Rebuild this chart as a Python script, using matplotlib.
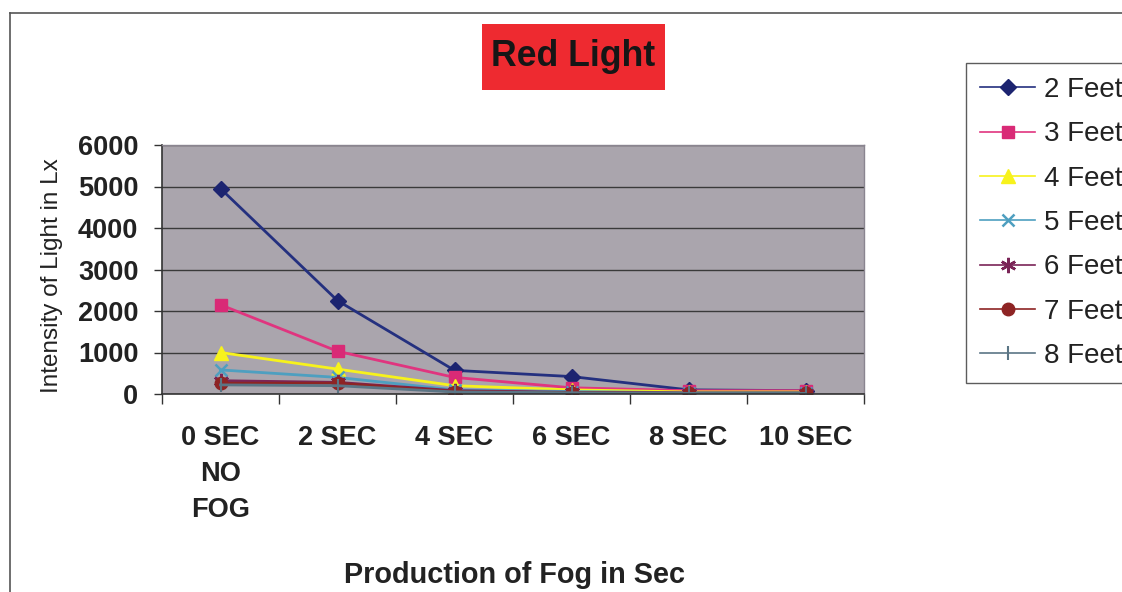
import matplotlib
matplotlib.use("Agg")
import matplotlib.pyplot as plt
from matplotlib.lines import Line2D
from matplotlib.patches import Rectangle

plt.rcParams['font.family'] = ['Liberation Sans', 'DejaVu Sans']

# Fog production time (categories) and measured light intensity per distance
categories = ["0 SEC\nNO\nFOG", "2 SEC", "4 SEC", "6 SEC", "8 SEC", "10 SEC"]
feet_2 = [4950, 2250, 570, 420, 100, 80]
feet_3 = [2150, 1030, 400, 150, 80, 80]
feet_4 = [1000, 600, 200, 100, 50, 50]
feet_5 = [580, 400, 100, 60, 30, 30]
feet_6 = [320, 280, 80, 40, 20, 20]
feet_7 = [260, 260, 60, 30, 20, 20]
feet_8 = [220, 200, 50, 30, 15, 15]
series_names = ["2 Feet", "3 Feet", "4 Feet", "5 Feet", "6 Feet", "7 Feet", "8 Feet"]
y_ticks = [0, 1000, 2000, 3000, 4000, 5000, 6000]

series = [feet_2, feet_3, feet_4, feet_5, feet_6, feet_7, feet_8]
styles = [
    dict(color="#24307f", marker="D", ms=8, mfc="#1c2470", mec="#1c2470"),
    dict(color="#e0357f", marker="s", ms=9, mfc="#d92a76", mec="#d92a76"),
    dict(color="#f7f21c", marker="^", ms=10, mfc="#f7f21c", mec="#f7f21c"),
    dict(color="#4e9fc0", marker="x", ms=9, mfc="#4e9fc0", mec="#4e9fc0", mew=1.8),
    dict(color="#7a2457", marker=(6, 2, 0), ms=11, mfc="#7a2457", mec="#7a2457", mew=1.8),
    dict(color="#8e2424", marker="o", ms=9, mfc="#8e2424", mec="#8e2424"),
    dict(color="#5b7585", marker="|", ms=10, mfc="#5b7585", mec="#5b7585", mew=1.5),
]

W, H = 1122, 592
fig = plt.figure(figsize=(W / 100, H / 100), dpi=100)
fig.patch.set_facecolor("white")

# chart area border
fig.add_artist(Line2D([10 / W, 10 / W], [0, 1 - 13 / H], color="#555555", lw=1.2,
                      transform=fig.transFigure))
fig.add_artist(Line2D([10 / W, 1], [1 - 13 / H, 1 - 13 / H], color="#555555", lw=1.2,
                      transform=fig.transFigure))

left, right, top, bottom = 162, 864, 145, 394
ax = fig.add_axes([left / W, 1 - bottom / H, (right - left) / W, (bottom - top) / H])
ax.set_facecolor("#aaa5ad")

x = list(range(len(categories)))
for vals, name, st in zip(series, series_names, styles):
    ax.plot(x, vals, lw=2.0, label=name, **st)

ax.set_xlim(-0.5, len(categories) - 0.5)
ax.set_ylim(0, 6000)
ax.set_yticks(y_ticks)
ax.set_yticklabels([str(v) for v in y_ticks], fontsize=19.5, fontweight="bold", color="#222222")
ax.yaxis.grid(True, color="#3a3a3a", lw=1.0)
ax.set_axisbelow(True)
ax.tick_params(axis="y", length=6, width=1, color="#333333", pad=11)

ax.set_xticks(x)
ax.set_xticklabels(categories, fontsize=19.5, fontweight="bold", color="#222222",
                   linespacing=1.52, va="top")
ax.set_xticks([i - 0.5 for i in range(len(categories) + 1)], minor=True)
ax.tick_params(axis="x", which="major", length=0, pad=22)
ax.tick_params(axis="x", which="minor", length=7, width=1, color="#333333")

for s in ["left", "bottom"]:
    ax.spines[s].set_color("#333333")
    ax.spines[s].set_linewidth(1.2)
for s in ["top", "right"]:
    ax.spines[s].set_color("#8a8590")
    ax.spines[s].set_linewidth(1.0)

ax.set_ylabel("Intensity of Light in Lx", fontsize=17.5, color="#222222")
ax.yaxis.set_label_coords((63 - left) / (right - left), 0.475)
fig.text(514 / W, 1 - 575 / H, "Production of Fog in Sec", fontsize=20.8,
         fontweight="bold", color="#222222", ha="center", va="center")

# title on a red panel
fig.add_artist(Rectangle((482 / W, 1 - 90 / H), (665 - 482) / W, (90 - 24) / H,
                         transform=fig.transFigure, facecolor="#ee2a30", edgecolor="none"))
fig.text(573 / W, 1 - 57 / H, "Red Light", fontsize=25.7, fontweight="bold",
         color="#161616", ha="center", va="center")

leg = fig.legend(loc="upper left", bbox_to_anchor=(966 / W, 1 - 63 / H),
                 fontsize=20, frameon=True, fancybox=False, handlelength=2.0,
                 handletextpad=0.3, labelspacing=0.66, borderpad=0.5,
                 borderaxespad=0)
leg.get_frame().set_edgecolor("#333333")
leg.get_frame().set_linewidth(1.0)
for h in leg.legend_handles:
    h.set_linewidth(1.2)
for t in leg.get_texts():
    t.set_color("#222222")

fig.savefig("out.png", dpi=100)
